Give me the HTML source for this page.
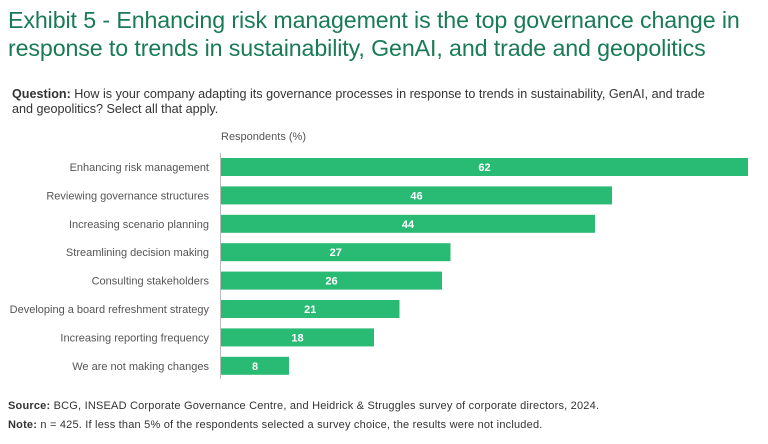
<!DOCTYPE html>
<html><head><meta charset="utf-8"><style>
body{margin:0;width:768px;height:444px;background:#fff;font-family:"Liberation Sans",sans-serif;overflow:hidden;position:relative}
#title{position:absolute;left:8px;top:6px;font-size:23.2px;line-height:28px;color:#197a56;letter-spacing:-0.1px}
#q{position:absolute;left:12px;top:87px;font-size:12.6px;line-height:15px;color:#333;width:725px}
.foot{position:absolute;left:8px;font-size:11px;color:#333;letter-spacing:0.2px}
</style></head><body>
<div id="title">Exhibit 5 - Enhancing risk management is the top governance change in<br>response to trends in sustainability, GenAI, and trade and geopolitics</div>
<div id="q"><b>Question:</b> How is your company adapting its governance processes in response to trends in sustainability, GenAI, and trade<br>and geopolitics? Select all that apply.</div>
<svg id="chart" width="768" height="444" style="position:absolute;left:0;top:0"></svg>
<div class="foot" style="top:400px"><b>Source:</b> BCG, INSEAD Corporate Governance Centre, and Heidrick &amp; Struggles survey of corporate directors, 2024.</div>
<div class="foot" style="top:419px"><b>Note:</b> n = 425. If less than 5% of the respondents selected a survey choice, the results were not included.</div>
<script>
const categories=["Enhancing risk management","Reviewing governance structures","Increasing scenario planning","Streamlining decision making","Consulting stakeholders","Developing a board refreshment strategy","Increasing reporting frequency","We are not making changes"];
const values=[62,46,44,27,26,21,18,8];
const svg=document.getElementById('chart');
const NS="http://www.w3.org/2000/svg";
const x0=221,scale=(748-221)/62;
const xs=v=>x0+v*scale;
const ys=i=>158+i*28.4;
const bh=18;
function mk(t,a){const e=document.createElementNS(NS,t);for(const k in a)e.setAttribute(k,a[k]);svg.appendChild(e);return e;}
const at=mk('text',{x:221,y:140,'font-size':11,fill:'#555'});at.textContent="Respondents (%)";


const ax=mk('line',{x1:220.5,x2:220.5,y1:153,y2:379,stroke:'#bbb','stroke-width':1});


categories.forEach((c,i)=>{
 const y=ys(i);
 const r=mk('rect',{x:x0,y:y,width:xs(values[i])-x0,height:bh,fill:'#29ba74'});
 
 
 const l=mk('text',{x:209,y:y+13,'font-size':11,fill:'#555','text-anchor':'end'});l.textContent=c;
 
 
 const v=mk('text',{x:(x0+xs(values[i]))/2,y:y+13,'font-size':11,'font-weight':'bold',fill:'#fff','text-anchor':'middle'});v.textContent=values[i];
 
 
});
</script>
</body></html>
